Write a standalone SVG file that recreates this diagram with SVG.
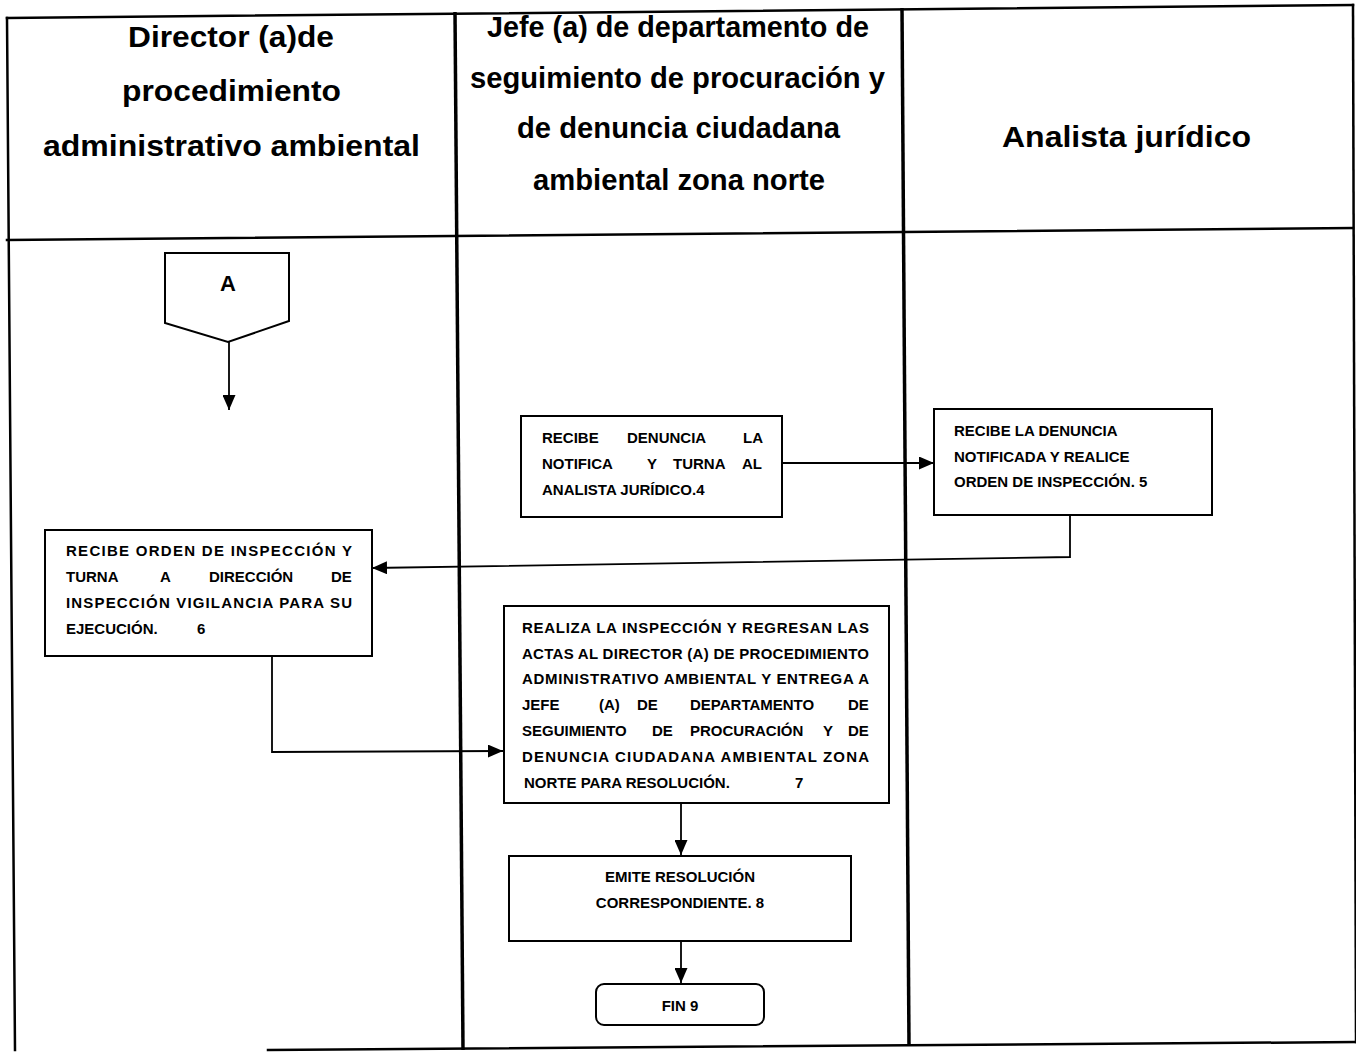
<svg xmlns="http://www.w3.org/2000/svg" width="1356" height="1052" viewBox="0 0 1356 1052">
<style>
.frame{stroke:#000;stroke-width:2.5;fill:none;stroke-linecap:square}
.div{stroke:#000;stroke-width:3.5;fill:none}
.box{fill:#fff;stroke:#000;stroke-width:2}
.con{fill:none;stroke:#000;stroke-width:1.8}
.h{font-family:"Liberation Sans",Arial,sans-serif;font-weight:bold;font-size:29px;fill:#000}
.t{font-family:"Liberation Sans",Arial,sans-serif;font-weight:bold;font-size:15px;fill:#000}
.a{font-family:"Liberation Sans",Arial,sans-serif;font-weight:bold;font-size:22px;fill:#000;text-anchor:middle}
</style>
<defs>
<marker id="arr" markerUnits="userSpaceOnUse" markerWidth="15" markerHeight="13" refX="15" refY="6.5" orient="auto">
<path d="M0,0 L15,6.5 L0,13 Z" fill="#000"/>
</marker>
</defs>
<rect width="1356" height="1052" fill="#fff"/>
<g id="table">
<line class="frame" x1="7" y1="18" x2="1353" y2="5"/>
<line class="frame" x1="7" y1="240" x2="1353" y2="228"/>
<line class="frame" x1="7" y1="18" x2="15" y2="1050"/>
<line class="div" x1="455" y1="12" x2="463" y2="1050"/>
<line class="div" x1="902" y1="8" x2="909" y2="1045"/>
<line class="frame" x1="1353" y1="5" x2="1356" y2="1042"/>
<line class="frame" x1="268" y1="1050" x2="1356" y2="1042"/>
</g>
<g id="headers">
<text class="h" x="128" y="47" textLength="206" lengthAdjust="spacingAndGlyphs">Director (a)de</text>
<text class="h" x="122" y="101" textLength="219" lengthAdjust="spacingAndGlyphs">procedimiento</text>
<text class="h" x="43" y="156" textLength="377" lengthAdjust="spacingAndGlyphs">administrativo ambiental</text>
<text class="h" x="487" y="37" textLength="382" lengthAdjust="spacingAndGlyphs">Jefe (a) de departamento de</text>
<text class="h" x="470" y="88" textLength="415" lengthAdjust="spacingAndGlyphs">seguimiento de procuración y</text>
<text class="h" x="517" y="138" textLength="323" lengthAdjust="spacingAndGlyphs">de denuncia ciudadana</text>
<text class="h" x="533" y="190" textLength="292" lengthAdjust="spacingAndGlyphs">ambiental zona norte</text>
<text class="h" x="1002" y="147" textLength="249" lengthAdjust="spacingAndGlyphs">Analista jurídico</text>
</g>
<g id="connectors">
<line class="con" x1="229" y1="342" x2="229" y2="410" marker-end="url(#arr)"/>
<line class="con" x1="782" y1="463" x2="934" y2="463" marker-end="url(#arr)"/>
<polyline class="con" points="1070,515 1070,557 372,568" marker-end="url(#arr)"/>
<polyline class="con" points="272,656 272,752 503,751" marker-end="url(#arr)"/>
<line class="con" x1="681" y1="803" x2="681" y2="855" marker-end="url(#arr)"/>
<line class="con" x1="681" y1="941" x2="681" y2="983" marker-end="url(#arr)"/>
</g>
<g id="nodeA">
<path class="box" d="M165,253 L289,253 L289,321 L228,342 L165,323 Z"/>
<text class="a" x="228" y="291">A</text>
</g>
<g id="node4">
<rect class="box" x="521" y="416" width="261" height="101"/>
<text class="t" y="443"><tspan x="542">RECIBE</tspan><tspan x="627">DENUNCIA</tspan><tspan x="743">LA</tspan></text>
<text class="t" y="469"><tspan x="542">NOTIFICA</tspan><tspan x="647">Y</tspan><tspan x="673">TURNA</tspan><tspan x="742">AL</tspan></text>
<text class="t" x="542" y="495">ANALISTA JURÍDICO.4</text>
</g>
<g id="node5">
<rect class="box" x="934" y="409" width="278" height="106"/>
<text class="t" x="954" y="436">RECIBE LA DENUNCIA</text>
<text class="t" x="954" y="462">NOTIFICADA Y REALICE</text>
<text class="t" x="954" y="487">ORDEN DE INSPECCIÓN. 5</text>
</g>
<g id="node6">
<rect class="box" x="45" y="530" width="327" height="126"/>
<text class="t" x="66" y="556" textLength="286" lengthAdjust="spacing">RECIBE ORDEN DE INSPECCIÓN Y</text>
<text class="t" y="582"><tspan x="66">TURNA</tspan><tspan x="160">A</tspan><tspan x="209">DIRECCIÓN</tspan><tspan x="331">DE</tspan></text>
<text class="t" x="66" y="608" textLength="286" lengthAdjust="spacing">INSPECCIÓN VIGILANCIA PARA SU</text>
<text class="t" y="634"><tspan x="66">EJECUCIÓN.</tspan><tspan x="197">6</tspan></text>
</g>
<g id="node7">
<rect class="box" x="504" y="606" width="385" height="197"/>
<text class="t" x="522" y="633" textLength="347" lengthAdjust="spacing">REALIZA LA INSPECCIÓN Y REGRESAN LAS</text>
<text class="t" x="522" y="659" textLength="347" lengthAdjust="spacing">ACTAS AL DIRECTOR (A) DE PROCEDIMIENTO</text>
<text class="t" x="522" y="684" textLength="347" lengthAdjust="spacing">ADMINISTRATIVO AMBIENTAL Y ENTREGA A</text>
<text class="t" y="710"><tspan x="522">JEFE</tspan><tspan x="599">(A)</tspan><tspan x="637">DE</tspan><tspan x="690">DEPARTAMENTO</tspan><tspan x="848">DE</tspan></text>
<text class="t" y="736"><tspan x="522">SEGUIMIENTO</tspan><tspan x="652">DE</tspan><tspan x="690">PROCURACIÓN</tspan><tspan x="823">Y</tspan><tspan x="848">DE</tspan></text>
<text class="t" x="522" y="762" textLength="347" lengthAdjust="spacing">DENUNCIA CIUDADANA AMBIENTAL ZONA</text>
<text class="t" y="788"><tspan x="524">NORTE PARA RESOLUCIÓN.</tspan><tspan x="795">7</tspan></text>
</g>
<g id="node8">
<rect class="box" x="509" y="856" width="342" height="85"/>
<text class="t" x="680" y="882" text-anchor="middle">EMITE RESOLUCIÓN</text>
<text class="t" x="680" y="908" text-anchor="middle">CORRESPONDIENTE. 8</text>
</g>
<g id="node9">
<rect class="box" x="596" y="984" width="168" height="41" rx="8"/>
<text class="t" x="680" y="1011" text-anchor="middle">FIN 9</text>
</g>
</svg>
